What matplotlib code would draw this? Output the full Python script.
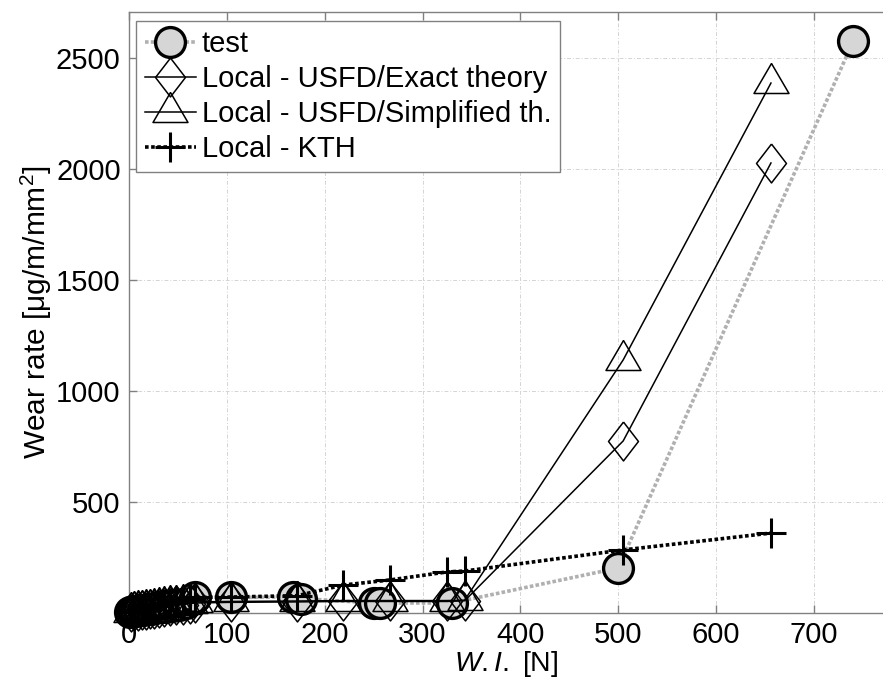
import matplotlib
matplotlib.use("Agg")
import matplotlib.pyplot as plt

plt.rcParams['font.family'] = ['Liberation Sans', 'DejaVu Sans']
plt.rcParams['mathtext.fontset'] = 'custom'
plt.rcParams['mathtext.rm'] = 'Liberation Sans'
plt.rcParams['mathtext.it'] = 'Liberation Sans:italic'

# Measured wear rates
test_x = [1, 4, 7, 10, 14, 18, 22, 27, 32, 38, 44, 51, 58, 67, 104, 168, 176, 250, 257, 330, 500, 740]
test_y = [5, 8, 10, 12, 15, 17, 20, 22, 25, 28, 32, 38, 45, 72, 70, 72, 65, 45, 45, 45, 203, 2575]

# Local wear models evaluated at the same set of contact conditions
model_x = [2, 5, 9, 13, 17, 21, 26, 31, 36, 42, 48, 55, 62, 67, 104, 172, 219, 267, 325, 343, 505, 656]
usfd_exact_y = [5, 8, 10, 12, 15, 18, 20, 23, 26, 30, 34, 38, 42, 45, 48, 50, 52, 52, 52, 55, 775, 2027]
usfd_simpl_y = [6, 9, 12, 14, 17, 20, 23, 26, 30, 34, 38, 42, 46, 50, 52, 54, 56, 56, 56, 58, 1140, 2387]
kth_y = [4, 8, 12, 16, 20, 25, 30, 35, 40, 46, 52, 58, 64, 70, 72, 78, 126, 149, 185, 189, 284, 360]

labels = ['test', 'Local - USFD/Exact theory', 'Local - USFD/Simplified th.', 'Local - KTH']
x_ticks = [0, 100, 200, 300, 400, 500, 600, 700]
y_ticks = [500, 1000, 1500, 2000, 2500]

W, H = 883, 686
fig = plt.figure(figsize=(W / 100, H / 100), dpi=100)
ax = fig.add_axes([129 / W, 1 - 613 / H, (W - 129) / W, (613 - 12) / H])

tri = [(0, 1.0), (-0.875, -0.5), (0.875, -0.5), (0, 1.0)]
dia = [(0, 1.0), (0.77, 0), (0, -1.0), (-0.77, 0), (0, 1.0)]

ax.plot(test_x, test_y, linestyle=(0, (1.0, 0.6)), color='#b0b0b0', lw=2.6,
        marker='o', ms=21.5, mfc='#d6d6d6', mec='black', mew=2.4,
        clip_on=False, label=labels[0], zorder=3)
ax.plot(model_x, usfd_exact_y, '-', color='black', lw=1.1,
        marker=dia, ms=28, mfc='none', mec='black', mew=1.1,
        clip_on=False, label=labels[1], zorder=4)
ax.plot(model_x, usfd_simpl_y, '-', color='black', lw=1.1,
        marker=tri, ms=28.8, mfc='none', mec='black', mew=1.1,
        clip_on=False, label=labels[2], zorder=4)
ax.plot(model_x, kth_y, linestyle=(0, (1.0, 0.7)), color='black', lw=2.6,
        marker='+', ms=21, mec='black', mew=2.2,
        clip_on=False, label=labels[3], zorder=5)

ax.set_xlim(0, 770.5)
ax.set_ylim(0, 2707)
ax.set_xticks(x_ticks)
ax.set_yticks(y_ticks)
ax.grid(True, color='#d4d4d4', linestyle=(0, (4, 2, 1, 2)), lw=0.7)
ax.set_axisbelow(True)

for side in ['left', 'bottom', 'top']:
    ax.spines[side].set_color('#808080')
    ax.spines[side].set_linewidth(1.0)
ax.spines['right'].set_visible(False)
ax.tick_params(axis='both', direction='in', length=6, width=1.0, color='#808080',
               labelsize=21, top=True, right=False, pad=6)

ax.set_xlabel(r'$\mathit{W.I.}$ [N]', fontsize=20.5)
ax.xaxis.set_label_coords(0.5, (613 - 649) / 601)
ax.xaxis.label.set_verticalalignment('top')
ax.set_ylabel('Wear rate [\u03bcg/m/mm$^2$]', fontsize=21.5)
ax.yaxis.set_label_coords((54 - 129) / (W - 129), 0.5)

leg = ax.legend(loc='upper left', bbox_to_anchor=(136 / W, 1 - 21 / H),
                bbox_transform=fig.transFigure, borderaxespad=0,
                fontsize=21, handlelength=1.75, handletextpad=0.2,
                labelspacing=0.24, borderpad=0.3, numpoints=1,
                fancybox=False, framealpha=1, edgecolor='#808080')
leg.get_frame().set_linewidth(1.0)
leg.set_zorder(10)

fig.savefig('out.png', dpi=100)
